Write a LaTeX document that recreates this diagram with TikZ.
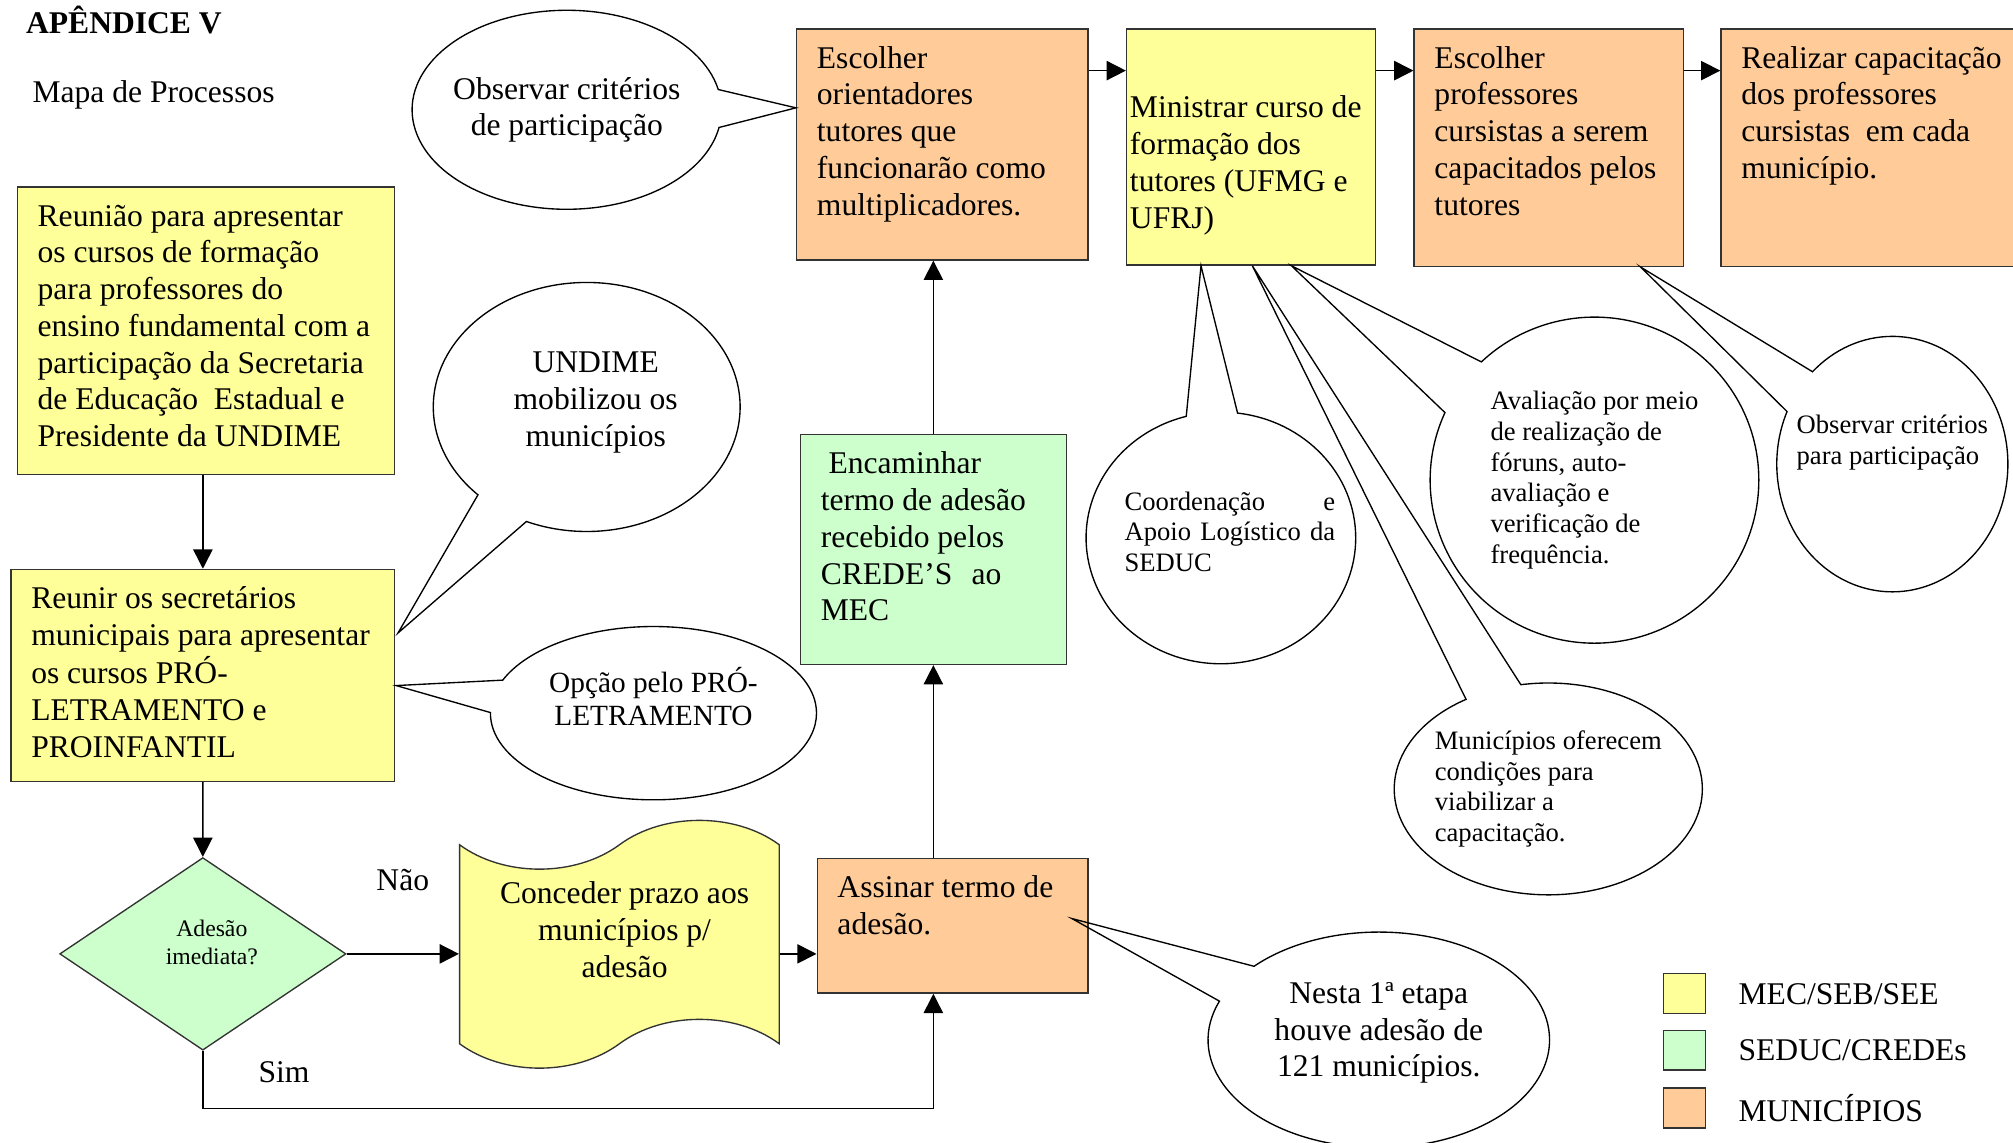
\documentclass[tikz,border=0pt]{standalone}
\usepackage{fontspec}
\setmainfont{Liberation Serif}
\usepackage{xcolor}
\usepackage{tikz}
\usetikzlibrary{arrows.meta,positioning,shapes.geometric,shapes.symbols,shapes.callouts,calc}

\definecolor{mecyellow}{HTML}{FFFF99}
\definecolor{seducgreen}{HTML}{CCFFCC}
\definecolor{muniorange}{HTML}{FFCC99}

\newcommand{\boxtxt}[3]{\parbox[t][#2][t]{#1}{\vspace*{6pt}\hspace*{9pt}\begin{tabular}[t]{@{}l@{}}#3\end{tabular}}}

\begin{document}
\begin{tikzpicture}[>={Triangle[length=0.3cm,width=0.3cm]},
  bigtxt/.style={font=\fontsize{14}{16.3}\selectfont},
  smalltxt/.style={font=\fontsize{11.8}{13.6}\selectfont},
  procbox/.style={draw=black!80, line width=0.6pt, inner sep=0pt, anchor=north west, bigtxt},
  bubble/.style={ellipse callout, draw, line width=0.6pt, inner sep=-1cm, callout pointer arc=22},
  legsq/.style={draw=black!80, line width=0.6pt, minimum width=0.66cm, minimum height=0.62cm, inner sep=0pt, anchor=north west},
  link/.style={->, line width=0.7pt}]
\useasboundingbox (0,0) rectangle (31.36,-17.8);
\clip (0,0) rectangle (31.36,-17.8);

\node[anchor=base west, inner sep=0pt, font=\fontsize{14}{16.3}\selectfont\bfseries] (tit) at (0.40,-0.52) {APÊNDICE V};
\node[anchor=base west, inner sep=0pt, bigtxt] (sub) at (0.50,-1.60) {Mapa de Processos};

\node[procbox, fill=mecyellow] (R1) at (0.26,-2.90)
  {\boxtxt{5.88cm}{4.48cm}{Reunião para apresentar\\os cursos de formação\\para professores do\\ensino fundamental com a\\participação da Secretaria\\de Educação\ \ Estadual e\\Presidente da UNDIME}};
\node[procbox, fill=mecyellow] (R2) at (0.16,-8.86)
  {\boxtxt{5.98cm}{3.30cm}{Reunir os secretários\\municipais para apresentar\\os cursos PRÓ-\\LETRAMENTO e\\PROINFANTIL}};
\node[procbox, fill=muniorange] (B1) at (12.40,-0.44)
  {\boxtxt{4.54cm}{3.60cm}{Escolher\\orientadores\\tutores que\\funcionarão como\\multiplicadores.}};
\node[procbox, fill=mecyellow] (B2) at (17.54,-0.44)
  {\parbox[t][3.68cm][t]{3.88cm}{\vspace*{28pt}\hspace*{1.5pt}\begin{tabular}[t]{@{}l@{}}Ministrar curso de\\formação dos\\tutores (UFMG e\\UFRJ)\end{tabular}}};
\node[procbox, fill=muniorange] (B3) at (22.02,-0.44)
  {\boxtxt{4.20cm}{3.70cm}{Escolher\\professores\\cursistas a serem\\capacitados pelos\\tutores}};
\node[procbox, fill=muniorange] (B4) at (26.80,-0.44)
  {\boxtxt{5.00cm}{3.70cm}{Realizar capacitação\\dos professores\\cursistas\ \ em cada\\município.}};
\node[procbox, fill=seducgreen] (E) at (12.46,-6.76)
  {\boxtxt{4.14cm}{3.58cm}{\hspace*{0.12cm}Encaminhar\\termo de adesão\\recebido pelos\\CREDE'S\hspace{0.3cm}ao\\MEC}};
\node[procbox, fill=muniorange] (A) at (12.72,-13.36)
  {\boxtxt{4.22cm}{2.10cm}{Assinar termo de\\adesão.}};

\node[diamond, draw=black!80, line width=0.6pt, fill=seducgreen, minimum width=4.46cm, minimum height=3.0cm,
  inner sep=0pt, font=\fontsize{10.5}{12.5}\selectfont] (dia) at (3.16,-14.86)
  {\hspace*{0.28cm}\begin{tabular}{@{}c@{}}Adesão\\imediata?\rule[-0.41cm]{0pt}{0.41cm}\end{tabular}};
\node[tape, draw=black!80, line width=0.6pt, fill=mecyellow, minimum width=4.98cm, minimum height=3.86cm,
  tape bend height=0.76cm, bigtxt] (prazo) at (9.65,-14.71)
  {\hspace*{0.16cm}\begin{tabular}{@{}c@{}}Conceder prazo aos\\municípios p/\\adesão\rule[-0.51cm]{0pt}{0.51cm}\end{tabular}};

\draw[link] (R2.north |- R1.south) -- (R2.north);
\draw[link] (R2.south) -- (dia.north);
\draw[link] (dia.east) -- node[midway, above=0.86cm, bigtxt] {Não} (dia.east -| prazo.west);
\draw[link] (dia.east -| prazo.east) -- (dia.east -| A.west);
\draw[link] (dia.south) -- ++(0,-0.9) node[above right=0.28cm and 0.74cm, bigtxt] {Sim} -| (E.south |- A.south);
\draw[link] (E.south |- A.north) -- (E.south);
\draw[link] (E.north) -- (E.north |- B1.south);
\draw[link] ([yshift=-0.66cm]B1.north east) -- ([yshift=-0.66cm]B2.north west);
\draw[link] ([yshift=-0.66cm]B2.north east) -- ([yshift=-0.66cm]B3.north west);
\draw[link] ([yshift=-0.66cm]B3.north east) -- ([yshift=-0.66cm]B4.north west);

\coordinate (pObs) at ($(B1.north west)+(0,-1.24)$);
\coordinate (pUnd) at ($(R2.north east)+(0.04,-1.0)$);
\coordinate (pOpc) at ($(R2.north east)+(0.01,-1.82)$);
\coordinate (pCoo) at ($(B2.south west)+(1.17,0)$);
\coordinate (pMun) at ($(B2.south west)+(1.97,0)$);
\coordinate (pAva) at ($(B2.south west)+(2.58,0)$);
\coordinate (pObsB) at ($(B3.south west)+(3.54,0)$);
\coordinate (pNes) at ($(A.north west)+(3.98,-0.95)$);

\node[bubble, bigtxt, align=center, minimum width=4.82cm, minimum height=3.10cm, callout absolute pointer={(pObs)}] (cObs) at (8.83,-1.71)
  {Observar critérios\\de participação};
\node[bubble, bigtxt, minimum width=4.78cm, minimum height=3.88cm, callout absolute pointer={(pUnd)}] (cUnd) at (9.14,-6.34)
  {\hspace*{0.28cm}\begin{tabular}{@{}c@{}}UNDIME\\mobilizou os\\municípios\rule[-0.32cm]{0pt}{0.32cm}\end{tabular}};
\node[bubble, font=\fontsize{13}{15}\selectfont, align=center, minimum width=5.08cm, minimum height=2.70cm, callout absolute pointer={(pOpc)}] (cOpc) at (10.18,-11.11)
  {Opção pelo PRÓ-\\LETRAMENTO\rule[-0.52cm]{0pt}{0.52cm}};
\node[bubble, smalltxt, minimum width=4.20cm, minimum height=3.92cm, callout absolute pointer={(pCoo)}] (cCoo) at (19.02,-8.38)
  {\hspace*{0.28cm}\parbox{3.28cm}{Coordenação\hfill e\\Apoio\hfill Logístico\hfill da\\SEDUC\rule[-0.2cm]{0pt}{0.2cm}}};
\node[bubble, smalltxt, align=left, minimum width=5.12cm, minimum height=5.08cm, callout absolute pointer={(pAva)}] (cAva) at (24.84,-7.48)
  {Avaliação por meio\\de realização de\\fóruns, auto-\\avaliação e\\verificação de\\frequência.};
\node[bubble, smalltxt, align=left, minimum width=4.80cm, minimum height=3.30cm, callout absolute pointer={(pMun)}] (cMun) at (24.12,-12.29)
  {Municípios oferecem\\condições para\\viabilizar a\\capacitação.};
\node[bubble, smalltxt, align=left, minimum width=3.60cm, minimum height=3.98cm, callout absolute pointer={(pObsB)}] (cObsB) at (29.48,-7.23)
  {Observar critérios\\para participação\rule[-0.76cm]{0pt}{0.76cm}};
\node[bubble, bigtxt, align=center, minimum width=5.32cm, minimum height=3.36cm, callout absolute pointer={(pNes)}] (cNes) at (21.48,-16.20)
  {Nesta 1ª etapa\\houve adesão de\\121 municípios.\rule[-0.32cm]{0pt}{0.32cm}};

\node[legsq, fill=mecyellow] (leg1) at (25.90,-15.16) {};
\node[legsq, fill=seducgreen] (leg2) at (25.90,-16.04) {};
\node[legsq, fill=muniorange] (leg3) at (25.90,-16.94) {};
\node[bigtxt, right=0.38cm of leg1] (lab1) {MEC/SEB/SEE};
\node[bigtxt, right=0.38cm of leg2] (lab2) {SEDUC/CREDEs};
\node[bigtxt, right=0.38cm of leg3] (lab3) {MUNICÍPIOS};
\end{tikzpicture}
\end{document}
